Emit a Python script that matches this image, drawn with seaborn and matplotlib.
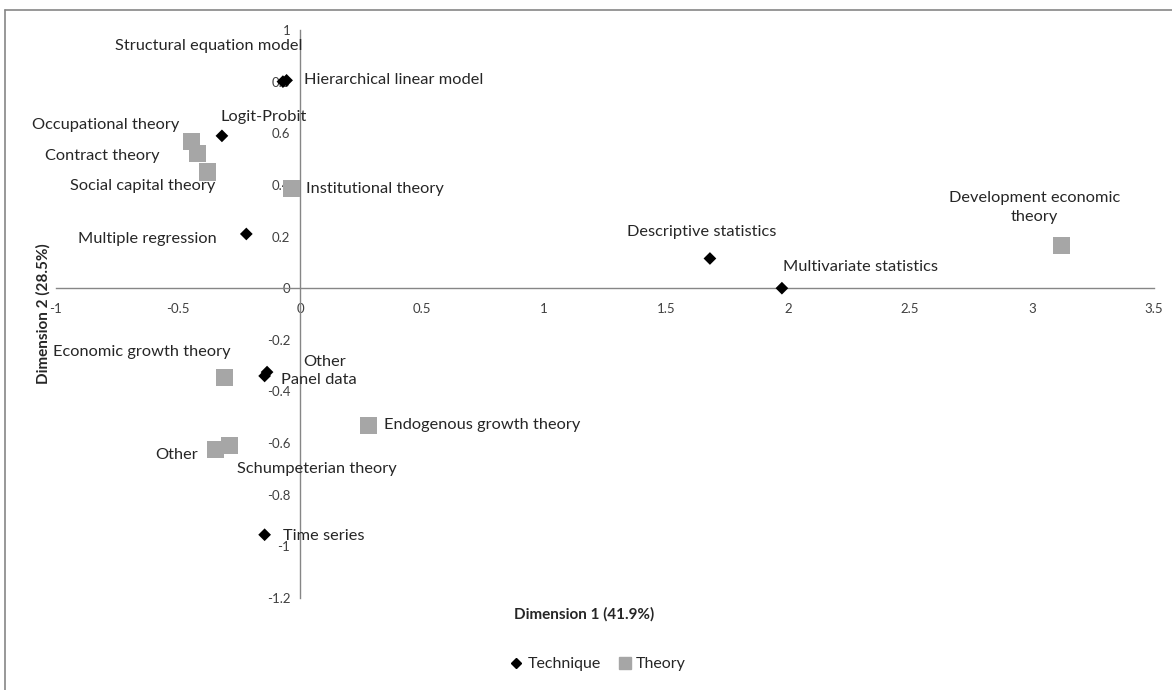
import matplotlib
matplotlib.use("Agg")
import matplotlib.pyplot as plt
import seaborn as sns
import pandas as pd
from matplotlib.lines import Line2D

sns.set_style("white")
plt.rcParams['font.family'] = ['Lato', 'DejaVu Sans']

# Technique points
tech_names = ["Structural equation model", "Hierarchical linear model", "Logit-Probit",
              "Multiple regression", "Descriptive statistics", "Multivariate statistics",
              "Other", "Panel data", "Time series"]
tech_x = [-0.07, -0.055, -0.32, -0.22, 1.68, 1.975, -0.135, -0.145, -0.145]
tech_y = [0.80, 0.805, 0.59, 0.21, 0.115, 0.0, -0.325, -0.34, -0.955]

# Theory points
theory_names = ["Occupational theory", "Contract theory", "Social capital theory",
                "Institutional theory", "Development economic\ntheory", "Economic growth theory",
                "Endogenous growth theory", "Schumpeterian theory", "Other"]
theory_x = [-0.445, -0.42, -0.38, -0.035, 3.12, -0.31, 0.28, -0.29, -0.345]
theory_y = [0.57, 0.52, 0.45, 0.385, 0.165, -0.345, -0.53, -0.61, -0.625]

x_ticks = [-1, -0.5, 0, 0.5, 1, 1.5, 2, 2.5, 3, 3.5]
y_ticks = [-1.2, -1, -0.8, -0.6, -0.4, -0.2, 0, 0.2, 0.4, 0.6, 0.8, 1]

df_t = pd.DataFrame({"x": tech_x, "y": tech_y, "name": tech_names})
df_h = pd.DataFrame({"x": theory_x, "y": theory_y, "name": theory_names})

fig = plt.figure(figsize=(11.72, 6.90), dpi=100)
ax = fig.add_axes([56/1172, 92/690, 1098/1172, 568/690])

sns.scatterplot(data=df_h, x="x", y="y", marker="s", s=150, color="#A6A6A6",
                edgecolor="none", ax=ax, zorder=3)
sns.scatterplot(data=df_t, x="x", y="y", marker="D", s=42, color="black",
                edgecolor="none", ax=ax, zorder=4)

ax.set_xlim(-1, 3.5)
ax.set_ylim(-1.2, 1)

# spines through origin
for s in ["top", "right"]:
    ax.spines[s].set_visible(False)
ax.spines["left"].set_position(("data", 0))
ax.spines["bottom"].set_position(("data", 0))
for s in ["left", "bottom"]:
    ax.spines[s].set_color("#868686")
    ax.spines[s].set_linewidth(1.0)

ax.set_xticks(x_ticks)
ax.set_yticks(y_ticks)
ax.set_xticklabels([f"{v:g}" for v in x_ticks])
ax.set_yticklabels([f"{v:g}" for v in y_ticks])
ax.tick_params(axis="both", direction="out", length=4, width=1, color="#868686",
               labelsize=9.5, labelcolor="#404040")
ax.tick_params(axis="x", pad=7)
ax.tick_params(axis="y", pad=3)
ax.set_xlabel("")
ax.set_ylabel("")

lab_fs = 11.8
txt_col = "#262626"

def lab(x, y, text, dx, dy, ha="left", va="center"):
    ax.annotate(text, (x, y), xytext=(dx, dy), textcoords="offset pixels",
                ha=ha, va=va, fontsize=lab_fs, color=txt_col, zorder=5,
                linespacing=1.45)

# technique labels
lab(tech_x[0], tech_y[0], tech_names[0], 20, 36, ha="right")
lab(tech_x[1], tech_y[1], tech_names[1], 17, 0)
lab(tech_x[2], tech_y[2], tech_names[2], -1, 19)
lab(tech_x[3], tech_y[3], tech_names[3], -30, -5, ha="right")
lab(tech_x[4], tech_y[4], tech_names[4], -8, 26, ha="center")
lab(tech_x[5], tech_y[5], tech_names[5], 1, 21)
lab(tech_x[6], tech_y[6], tech_names[6], 36, 10)
lab(tech_x[7], tech_y[7], tech_names[7], 16, -4)
lab(tech_x[8], tech_y[8], tech_names[8], 18, -1)

# theory labels
lab(theory_x[0], theory_y[0], theory_names[0], -12, 16, ha="right")
lab(theory_x[1], theory_y[1], theory_names[1], -38, -2, ha="right")
lab(theory_x[2], theory_y[2], theory_names[2], 8, -14, ha="right")
lab(theory_x[3], theory_y[3], theory_names[3], 15, 0)
lab(theory_x[4], theory_y[4], theory_names[4], -27, 38, ha="center")
lab(theory_x[5], theory_y[5], theory_names[5], 6, 25, ha="right")
lab(theory_x[6], theory_y[6], theory_names[6], 16, 0)
lab(theory_x[7], theory_y[7], theory_names[7], 88, -23, ha="center")
lab(theory_x[8], theory_y[8], theory_names[8], -39, -5, ha="center")

# axis titles
fig.text(584/1172, 1 - 614/690, "Dimension 1 (41.9%)", ha="center", va="center",
         fontsize=11, fontweight="bold", color="#262626")
fig.text(43/1172, 1 - 314/690, "Dimension 2 (28.5%)", ha="center", va="center",
         rotation=90, fontsize=11, fontweight="bold", color="#262626")

# legend
handles = [Line2D([], [], marker="D", color="black", linestyle="none", markersize=5),
           Line2D([], [], marker="s", color="#A6A6A6", linestyle="none", markersize=8)]
fig.legend(handles, ["Technique", "Theory"], loc="center", bbox_to_anchor=(597/1172, 1 - 664/690),
           ncol=2, frameon=False, fontsize=11.5, handletextpad=0.2, columnspacing=1.0,
           handlelength=1.0)

# outer frame (top and left visible)
fig.add_artist(Line2D([5/1172, 5/1172], [0, 1 - 10/690], transform=fig.transFigure,
                      color="#868686", linewidth=1.2))
fig.add_artist(Line2D([5/1172, 1], [1 - 10/690, 1 - 10/690], transform=fig.transFigure,
                      color="#868686", linewidth=1.2))

fig.savefig("out.png", dpi=100)
